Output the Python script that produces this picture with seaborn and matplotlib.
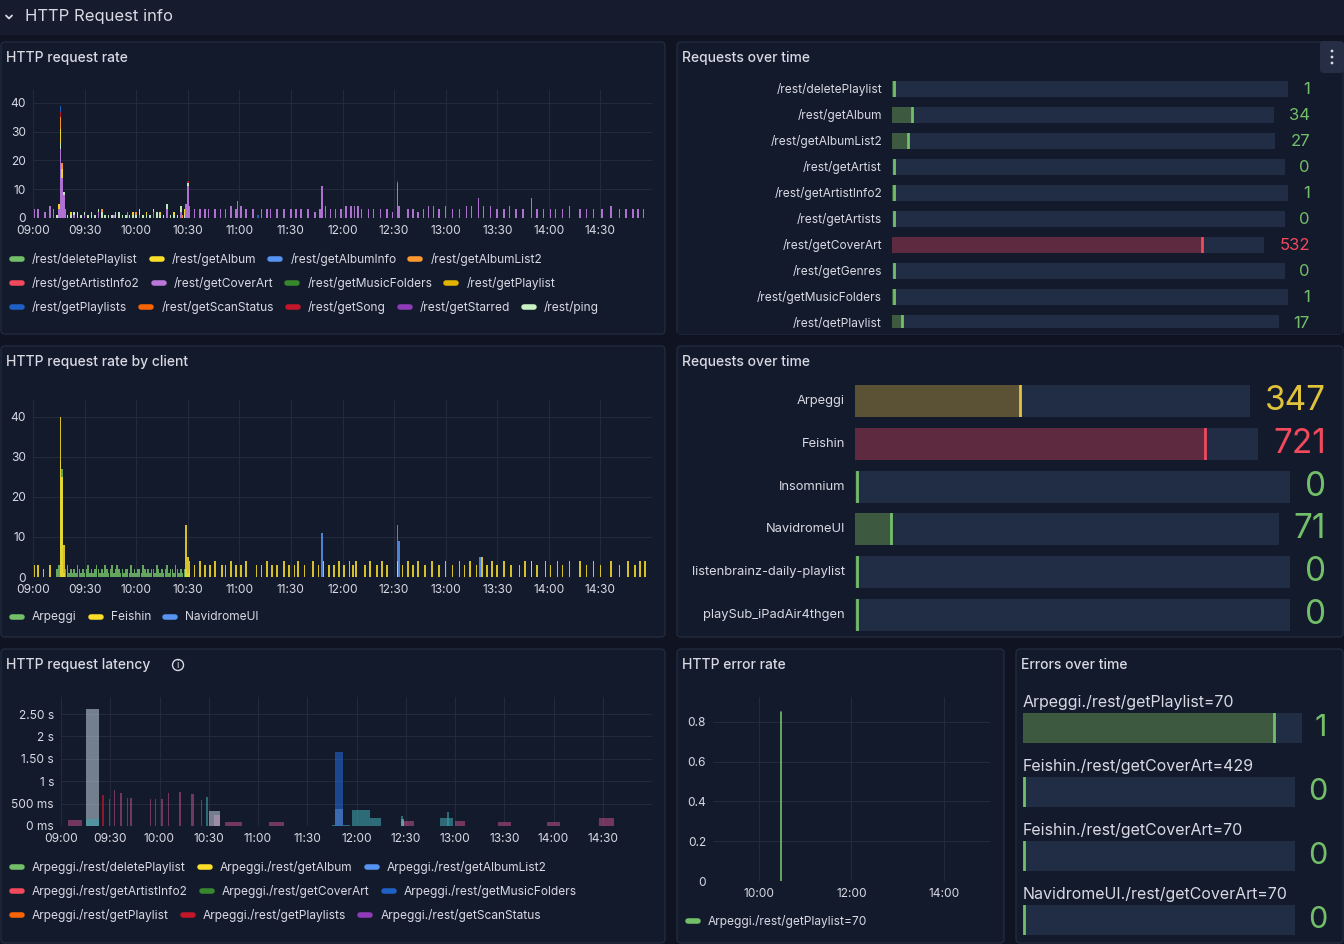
import numpy as np
import pandas as pd
import matplotlib
matplotlib.use("Agg")
import matplotlib.pyplot as plt
import seaborn as sns
from matplotlib.patches import FancyBboxPatch, Circle
from matplotlib.ticker import FixedLocator, FixedFormatter

# ---------------- data ----------------
TIME_TICKS = [0, 30, 60, 90, 120, 150, 180, 210, 240, 270, 300, 330]
TIME_LABELS = ["09:00", "09:30", "10:00", "10:30", "11:00", "11:30", "12:00",
               "12:30", "13:00", "13:30", "14:00", "14:30"]

# HTTP request rate (minutes after 09:00)
cover_t = [1, 3, 7, 10, 12, 15, 16, 17, 18, 19, 24, 30, 38, 47, 55, 62, 70, 78, 86, 89,
           90, 91, 94, 97, 100, 102, 106, 109, 112, 115, 118, 119, 121, 124, 128, 133, 136,
           138, 142, 146, 150, 153, 156, 160, 164, 167, 168, 170, 173, 176, 179, 182, 185,
           187, 189, 191, 195, 198, 202, 206, 209, 212, 213, 218, 221, 224, 227, 230, 233,
           236, 240, 244, 248, 252, 255, 259, 262, 266, 270, 274, 277, 281, 285, 290, 293,
           297, 301, 304, 308, 312, 318, 322, 326, 331, 336, 341, 345, 349, 352, 355]
cover_v = [3, 3, 2, 4, 3, 3, 24, 14, 8, 3, 1, 1, 2, 1, 2, 1, 2, 3, 2, 5,
           11, 4, 3, 3, 3, 3, 3, 3, 3, 4, 3, 6, 4, 3, 3, 3, 3,
           3, 3, 3, 3, 3, 3, 3, 2, 3, 11, 4, 3, 3, 3, 4, 4,
           4, 4, 3, 3, 3, 3, 3, 2, 12, 4, 3, 3, 2, 3, 4, 4,
           3, 4, 3, 3, 4, 4, 7, 4, 4, 3, 3, 4, 3, 3, 7, 3,
           3, 3, 3, 3, 4, 3, 3, 3, 3, 4, 3, 3, 3, 3, 3]
ping_t = list(range(14, 92, 2))
ping_v = [1, 2, 1, 1, 1, 1, 2, 1, 1, 1, 1, 1, 1, 2, 1, 1, 1, 1, 2, 1,
          1, 1, 1, 1, 2, 1, 1, 1, 1, 2, 1, 1, 2, 1, 1, 1, 2, 1, 1]
album_t = [15, 16, 17, 22, 34, 48, 58, 66, 74, 82, 88]
album_v = [2, 5, 3, 1, 1, 1, 1, 1, 1, 1, 2]
albumlist_t = [16, 17, 40, 60, 87]
albumlist_v = [4, 2, 1, 1, 1]
song_t = [16, 90]
song_v = [2, 1]
playlists_t = [16, 131, 212]
playlists_v = [2, 1, 1]

rate_names = ["/rest/deletePlaylist", "/rest/getAlbum", "/rest/getAlbumInfo", "/rest/getAlbumList2",
              "/rest/getArtistInfo2", "/rest/getCoverArt", "/rest/getMusicFolders", "/rest/getPlaylist",
              "/rest/getPlaylists", "/rest/getScanStatus", "/rest/getSong", "/rest/getStarred", "/rest/ping"]
rate_colors = ["#73bf69", "#fade2a", "#5794f2", "#ff9830", "#f2495c", "#b877d9", "#37872d",
               "#e0b400", "#1f60c4", "#fa6400", "#c4162a", "#8f3bb8", "#c8f2c2"]

# HTTP request rate by client
feishin_t = [1, 3, 6, 10, 16, 17, 18, 89, 90, 91, 94, 97, 100, 103, 106, 110, 112, 115, 118,
             121, 124, 130, 133, 136, 139, 142, 146, 149, 152, 154, 158, 163, 166, 169, 172,
             175, 178, 181, 184, 186, 188, 193, 196, 200, 203, 206, 212, 215, 218, 221, 224,
             228, 232, 236, 240, 244, 248, 251, 254, 258, 261, 264, 267, 270, 274, 278, 283,
             286, 290, 293, 298, 301, 305, 308, 312, 318, 322, 326, 330, 336, 341, 346, 350, 353, 356]
feishin_v = [3, 3, 2, 3, 40, 25, 8, 13, 5, 4, 3, 4, 3, 3, 4, 3, 3, 4, 3,
             3, 4, 3, 3, 4, 3, 3, 4, 3, 3, 4, 3, 4, 3, 4, 3,
             3, 4, 3, 4, 3, 4, 3, 4, 3, 4, 3, 4, 3, 4, 3, 4,
             3, 4, 3, 4, 3, 4, 3, 4, 3, 5, 3, 4, 3, 4, 3, 3,
             4, 4, 3, 4, 3, 4, 3, 4, 4, 3, 4, 3, 4, 3, 4, 3, 4, 4]
arpeggi_t = [16, 17] + list(range(14, 92, 1))
arpeggi_v = [28, 25] + [2, 3, 1, 2, 1, 2, 3, 1, 2, 1, 2, 1, 3, 2, 1, 2, 1, 2, 3, 1,
                        2, 1, 2, 3, 2, 1, 2, 1, 3, 2, 1, 2, 3, 1, 2, 3, 2, 1, 2,
                        1, 2, 2, 1, 3, 1, 2, 1, 2, 2, 1, 3, 2, 1, 2, 1, 2, 2, 1, 3,
                        2, 1, 2, 1, 2, 3, 1, 2, 2, 1, 3, 2, 1, 2, 1, 2, 2, 1, 2]
navi_t = [168, 212, 213, 260, 290]
navi_v = [11, 13, 9, 5, 4]
client_names = ["Arpeggi", "Feishin", "NavidromeUI"]
client_colors = ["#73bf69", "#fade2a", "#5794f2"]

# HTTP request latency (start minute, width, seconds)
lat_grey = [(15, 8, 2.62), (90, 7, 0.33), (167, 5, 0.38), (207, 2, 0.15)]
lat_teal = [(15, 8, 0.15), (88.5, 1, 0.65), (165, 11, 0.02), (177, 11, 0.35), (188, 7, 0.17),
            (207, 1.5, 0.22), (231, 8, 0.18), (235, 1.5, 0.32)]
lat_blue = [(167, 5, 1.65)]
lat_pink = [(4, 9, 0.13), (93, 4, 0.25), (100, 10, 0.09), (127, 9, 0.1), (207, 8, 0.12),
            (240, 6, 0.12), (266, 8, 0.1), (296, 8, 0.1), (328, 9, 0.17),
            (29, 1, 0.6), (32, 1, 0.8), (36, 1, 0.73), (40, 1, 0.62), (42, 1, 0.62),
            (54, 1, 0.6), (57, 1, 0.6), (61, 1, 0.6), (65, 1, 0.73), (72, 1, 0.77),
            (79, 1, 0.72), (80, 1, 0.72), (85, 1, 0.57)]
lat_red = [(25, 1.2, 0.7)]
lat_names = ["Arpeggi./rest/deletePlaylist", "Arpeggi./rest/getAlbum", "Arpeggi./rest/getAlbumList2",
             "Arpeggi./rest/getArtistInfo2", "Arpeggi./rest/getCoverArt", "Arpeggi./rest/getMusicFolders",
             "Arpeggi./rest/getPlaylist", "Arpeggi./rest/getPlaylists", "Arpeggi./rest/getScanStatus"]
lat_colors = ["#73bf69", "#fade2a", "#5794f2", "#f2495c", "#37872d", "#1f60c4", "#fa6400", "#c4162a", "#8f3bb8"]

# HTTP error rate
err_t = [89, 89]
err_v = [0, 0.85]

# bar gauges
endpoint_names = ["/rest/deletePlaylist", "/rest/getAlbum", "/rest/getAlbumList2", "/rest/getArtist",
                  "/rest/getArtistInfo2", "/rest/getArtists", "/rest/getCoverArt", "/rest/getGenres",
                  "/rest/getMusicFolders", "/rest/getPlaylist"]
endpoint_counts = [1, 34, 27, 0, 1, 0, 532, 0, 1, 17]
client_gauge_names = ["Arpeggi", "Feishin", "Insomnium", "NavidromeUI",
                      "listenbrainz-daily-playlist", "playSub_iPadAir4thgen"]
client_gauge_counts = [347, 721, 0, 71, 0, 0]
error_names = ["Arpeggi./rest/getPlaylist=70", "Feishin./rest/getCoverArt=429",
               "Feishin./rest/getCoverArt=70", "NavidromeUI./rest/getCoverArt=70"]
error_counts = [1, 0, 0, 0]

# ---------------- style ----------------
PAGE = "#0f1322"
PANEL = "#131a2c"
BORDER = "#222a3d"
TRACK = "#212c45"
TEXT = "#d8d9e3"
GRID = "#232a3b"

sns.set_theme(style="dark")
plt.rcParams["font.family"] = ["Inter", "DejaVu Sans"]
plt.rcParams["text.color"] = TEXT

W, H = 1344, 944
fig = plt.figure(figsize=(W / 100, H / 100), dpi=100, facecolor=PAGE)
bg = fig.add_axes([0, 0, 1, 1], zorder=-5)
bg.set_xlim(0, W)
bg.set_ylim(H, 0)
bg.axis("off")
renderer = fig.canvas.get_renderer()


def px_axes(x0, y0, x1, y1, zorder=1):
    return fig.add_axes([x0 / W, 1 - y1 / H, (x1 - x0) / W, (y1 - y0) / H], zorder=zorder)


def panel(x0, y0, x1, y1, title):
    bg.add_patch(FancyBboxPatch((x0 + 1, y0 + 1), x1 - x0 - 2, y1 - y0 - 2,
                                boxstyle="round,pad=0,rounding_size=4",
                                fc=PANEL, ec=BORDER, lw=1))
    return bg.text(x0 + 6, y0 + 17, title, fontsize=10, fontweight="medium", color=TEXT, va="center")


def text_width(t):
    return t.get_window_extent(renderer=renderer).width


def legend_row(y, items, x=10):
    for label, color in items:
        bg.plot([x + 2, x + 12], [y, y], color=color, lw=4, solid_capstyle="round")
        t = bg.text(x + 22, y, label, fontsize=8.6, va="center", color=TEXT)
        x = x + 22 + text_width(t) + 12


def style_ts(ax, ymax):
    ax.set_facecolor("none")
    for s in ax.spines.values():
        s.set_visible(False)
    ax.set_xlim(0, 360)
    ax.set_ylim(0, ymax)
    ax.xaxis.set_major_locator(FixedLocator(TIME_TICKS))
    ax.xaxis.set_major_formatter(FixedFormatter(TIME_LABELS))
    ax.grid(True, color=GRID, lw=0.8)
    ax.set_axisbelow(True)
    ax.tick_params(colors=TEXT, labelsize=8.6, length=0, pad=5)
    ax.set_xlabel("")
    ax.set_ylabel("")


# header
bg.add_patch(plt.Rectangle((0, 0), W, 35, fc="#161c2e", ec="none"))
bg.plot([6, 9, 12], [15.5, 18.5, 15.5], color=TEXT, lw=1.3)
bg.text(25, 17, "HTTP Request info", fontsize=12, color=TEXT, va="center")

# ---------------- panel A: request rate ----------------
panel(0, 41, 666, 335, "HTTP request rate")
rows = []
for name, tt, vv in [("/rest/getCoverArt", cover_t, cover_v), ("/rest/ping", ping_t, ping_v),
                     ("/rest/getAlbum", album_t, album_v), ("/rest/getAlbumList2", albumlist_t, albumlist_v),
                     ("/rest/getSong", song_t, song_v), ("/rest/getPlaylists", playlists_t, playlists_v)]:
    rows += [{"t": a, "v": b, "series": name} for a, b in zip(tt, vv)]
rate_df = pd.DataFrame(rows)
axA = px_axes(33, 90, 652, 218)
sns.histplot(data=rate_df, x="t", weights="v", hue="series", multiple="stack", discrete=True,
             shrink=0.9, palette=dict(zip(rate_names, rate_colors)),
             hue_order=["/rest/getPlaylists", "/rest/getSong", "/rest/getAlbumList2", "/rest/getAlbum",
                        "/rest/ping", "/rest/getCoverArt"],
             linewidth=0, alpha=0.95, legend=False, ax=axA)
style_ts(axA, 44.5)
axA.set_yticks([0, 10, 20, 30, 40])
legend_row(259, list(zip(rate_names[0:4], rate_colors[0:4])))
legend_row(283, list(zip(rate_names[4:8], rate_colors[4:8])))
legend_row(307, list(zip(rate_names[8:13], rate_colors[8:13])))

# ---------------- panel B: rate by client ----------------
panel(0, 345, 666, 638, "HTTP request rate by client")
rows = []
for name, tt, vv in [("Feishin", feishin_t, feishin_v), ("Arpeggi", arpeggi_t, arpeggi_v),
                     ("NavidromeUI", navi_t, navi_v)]:
    rows += [{"t": a, "v": b, "client": name} for a, b in zip(tt, vv)]
client_df = pd.DataFrame(rows)
axB = px_axes(33, 400, 652, 577)
sns.histplot(data=client_df, x="t", weights="v", hue="client", multiple="layer", discrete=True,
             shrink=0.9, palette=dict(zip(client_names, client_colors)),
             hue_order=["Feishin", "Arpeggi", "NavidromeUI"],
             linewidth=0, alpha=0.85, legend=False, ax=axB)
style_ts(axB, 44.2)
axB.set_yticks([0, 10, 20, 30, 40])
legend_row(617, list(zip(client_names, client_colors)))

# ---------------- panel C: latency ----------------
panel(0, 648, 666, 944, "HTTP request latency")
bg.add_patch(Circle((178, 665), 5.5, fc="none", ec=TEXT, lw=1))
bg.text(178, 665.5, "i", fontsize=7, ha="center", va="center", color=TEXT)
axC = px_axes(61, 697, 652, 826)
for series, color, alpha in [(lat_pink, "#c0508a", 0.55), (lat_red, "#c4162a", 0.7),
                             (lat_grey, "#c3d3dc", 0.55), (lat_teal, "#3fa2ad", 0.6),
                             (lat_blue, "#1f60c4", 0.65)]:
    axC.bar([s[0] for s in series], [s[2] for s in series], width=[s[1] for s in series],
            align="edge", color=color, alpha=alpha, linewidth=0)
style_ts(axC, 2.88)
axC.yaxis.set_major_locator(FixedLocator([0, 0.5, 1, 1.5, 2, 2.5]))
axC.yaxis.set_major_formatter(FixedFormatter(["0 ms", "500 ms", "1 s", "1.50 s", "2 s", "2.50 s"]))
legend_row(867, list(zip(lat_names[0:3], lat_colors[0:3])))
legend_row(891, list(zip(lat_names[3:6], lat_colors[3:6])))
legend_row(915, list(zip(lat_names[6:9], lat_colors[6:9])))

# ---------------- panel F: error rate ----------------
panel(676, 648, 1005, 944, "HTTP error rate")
axF = px_axes(713, 697, 990, 881)
sns.lineplot(x=err_t, y=err_v, color="#73bf69", lw=1.2, estimator=None, sort=False, ax=axF)
style_ts(axF, 0.925)
axF.xaxis.set_major_locator(FixedLocator([60, 180, 300]))
axF.xaxis.set_major_formatter(FixedFormatter(["10:00", "12:00", "14:00"]))
axF.set_yticks([0, 0.2, 0.4, 0.6, 0.8])
axF.set_yticklabels(["0", "0.2", "0.4", "0.6", "0.8"])
legend_row(921, [("Arpeggi./rest/getPlaylist=70", "#73bf69")], x=686)


# ---------------- bar gauges ----------------
def gauge_color(v):
    if v >= 500:
        return "#f2495c", "#5e2a3f"
    if v >= 100:
        return "#e0c33a", "#5b5235"
    return "#73bf69", "#3d5a40"


def gauge(x0, y_mid, value_right, height, value, vmax, vsize, gap, clip_bottom=None):
    bright, dim = gauge_color(value)
    t = bg.text(value_right, y_mid, str(value), fontsize=vsize, ha="right", va="center", color=bright)
    x1 = value_right - text_width(t) - gap
    y0, y1 = y_mid - height / 2, y_mid + height / 2
    top_frac = 0.5
    if clip_bottom is not None and y1 > clip_bottom:
        y1 = clip_bottom
    ax = px_axes(x0, y0, x1, y1, zorder=2)
    ax.set_facecolor(TRACK)
    for s in ax.spines.values():
        s.set_visible(False)
    ax.set_xticks([])
    ax.set_yticks([])
    ax.grid(False)
    ax.barh([0], [value], height=1, left=0, color=dim, linewidth=0)
    ax.axvline(max(value, vmax * 0.004), color=bright, lw=2)
    ax.set_xlim(0, vmax)
    ax.set_ylim(0.5 - (y1 - y0) / height, top_frac)
    return ax


panel(676, 41, 1344, 335, "Requests over time")
bg.add_patch(FancyBboxPatch((1320, 41), 24, 32, boxstyle="round,pad=0,rounding_size=4",
                            fc="#252e45", ec="none"))
for dy in (-6, 0, 6):
    bg.add_patch(Circle((1332, 57 + dy), 1.4, fc=TEXT, ec="none"))
for i, (name, cnt) in enumerate(zip(endpoint_names, endpoint_counts)):
    y = 89 + 26 * i
    bg.text(882, y, name, fontsize=8.6, ha="right", va="center", color=TEXT)
    gauge(892, y, 1310, 16, cnt, 640, 12, 15, clip_bottom=328)
# cover the overflowing last row
bg.add_patch(plt.Rectangle((678, 328), 664, 6, fc=PANEL, ec="none", zorder=5))

panel(676, 345, 1344, 638, "Requests over time")
for i, (name, cnt) in enumerate(zip(client_gauge_names, client_gauge_counts)):
    y = 401 + 42.8 * i
    bg.text(845, y, name, fontsize=9.3, ha="right", va="center", color=TEXT)
    gauge(855, y, 1326, 32, cnt, 830, 24, 15)

panel(1015, 648, 1344, 944, "Errors over time")
for i, (name, cnt) in enumerate(zip(error_names, error_counts)):
    y = 702 + 64 * i
    bg.text(1023, y, name, fontsize=11.5, ha="left", va="center", color=TEXT)
    gauge(1023, y + 26, 1327, 30, cnt, 1.11, 22, 13)

fig.savefig("out.png", dpi=100, facecolor=PAGE)
